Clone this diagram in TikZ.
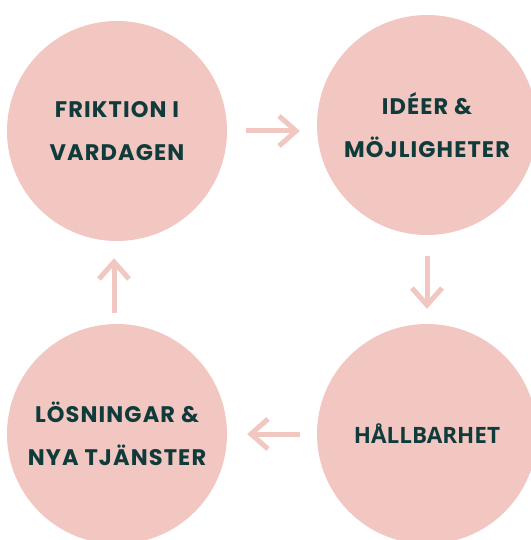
\documentclass[tikz,border=0pt]{standalone}
\usepackage{fontspec}
\setmainfont{Poppins}[BoldFont=Poppins Bold, LetterSpace=5]
\newfontfamily\osans{Open Sans}[BoldFont=Open Sans Bold]
\usetikzlibrary{arrows.meta}
\definecolor{pinkc}{RGB}{242,198,193}
\definecolor{tealc}{RGB}{15,59,59}
\tikzset{
  circ/.style={circle, fill=pinkc, minimum size=220pt, inner sep=0pt, text=tealc,
    align=center, font=\bfseries\fontsize{22.5}{43}\selectfont},
  arr/.style={draw=pinkc, line width=5pt, -{Straight Barb[length=17pt, width=30pt, line width=5pt]}}
}
\begin{document}
\begin{tikzpicture}[x=1pt, y=-1pt]
\useasboundingbox (0,0) rectangle (530,540);
\node[circ] (a) at (117,131) {FRIKTION I\\VARDAGEN};
\node[circ] (b) at (427,125) {IDÉER \&\\MÖJLIGHETER};
\node[circ] (c) at (117,434) {LÖSNINGAR \&\\NYA TJÄNSTER};
\node[circ, font=\osans\bfseries\fontsize{22.5}{43}\selectfont] (d) at (427,434) {HÅLLBARHET};
\draw[arr, shorten <=19pt, shorten >=17pt] (a.east) -- (b.west |- a.east);
\draw[arr, shorten <=21pt, shorten >=15pt] (b.south) -- (d.north);
\draw[arr, shorten <=17pt, shorten >=20pt] (d.west) -- (c.east);
\draw[arr, shorten <=11pt, shorten >=17pt] ([xshift=-3pt]c.north) -- ([xshift=-3pt]a.south);
\end{tikzpicture}
\end{document}
